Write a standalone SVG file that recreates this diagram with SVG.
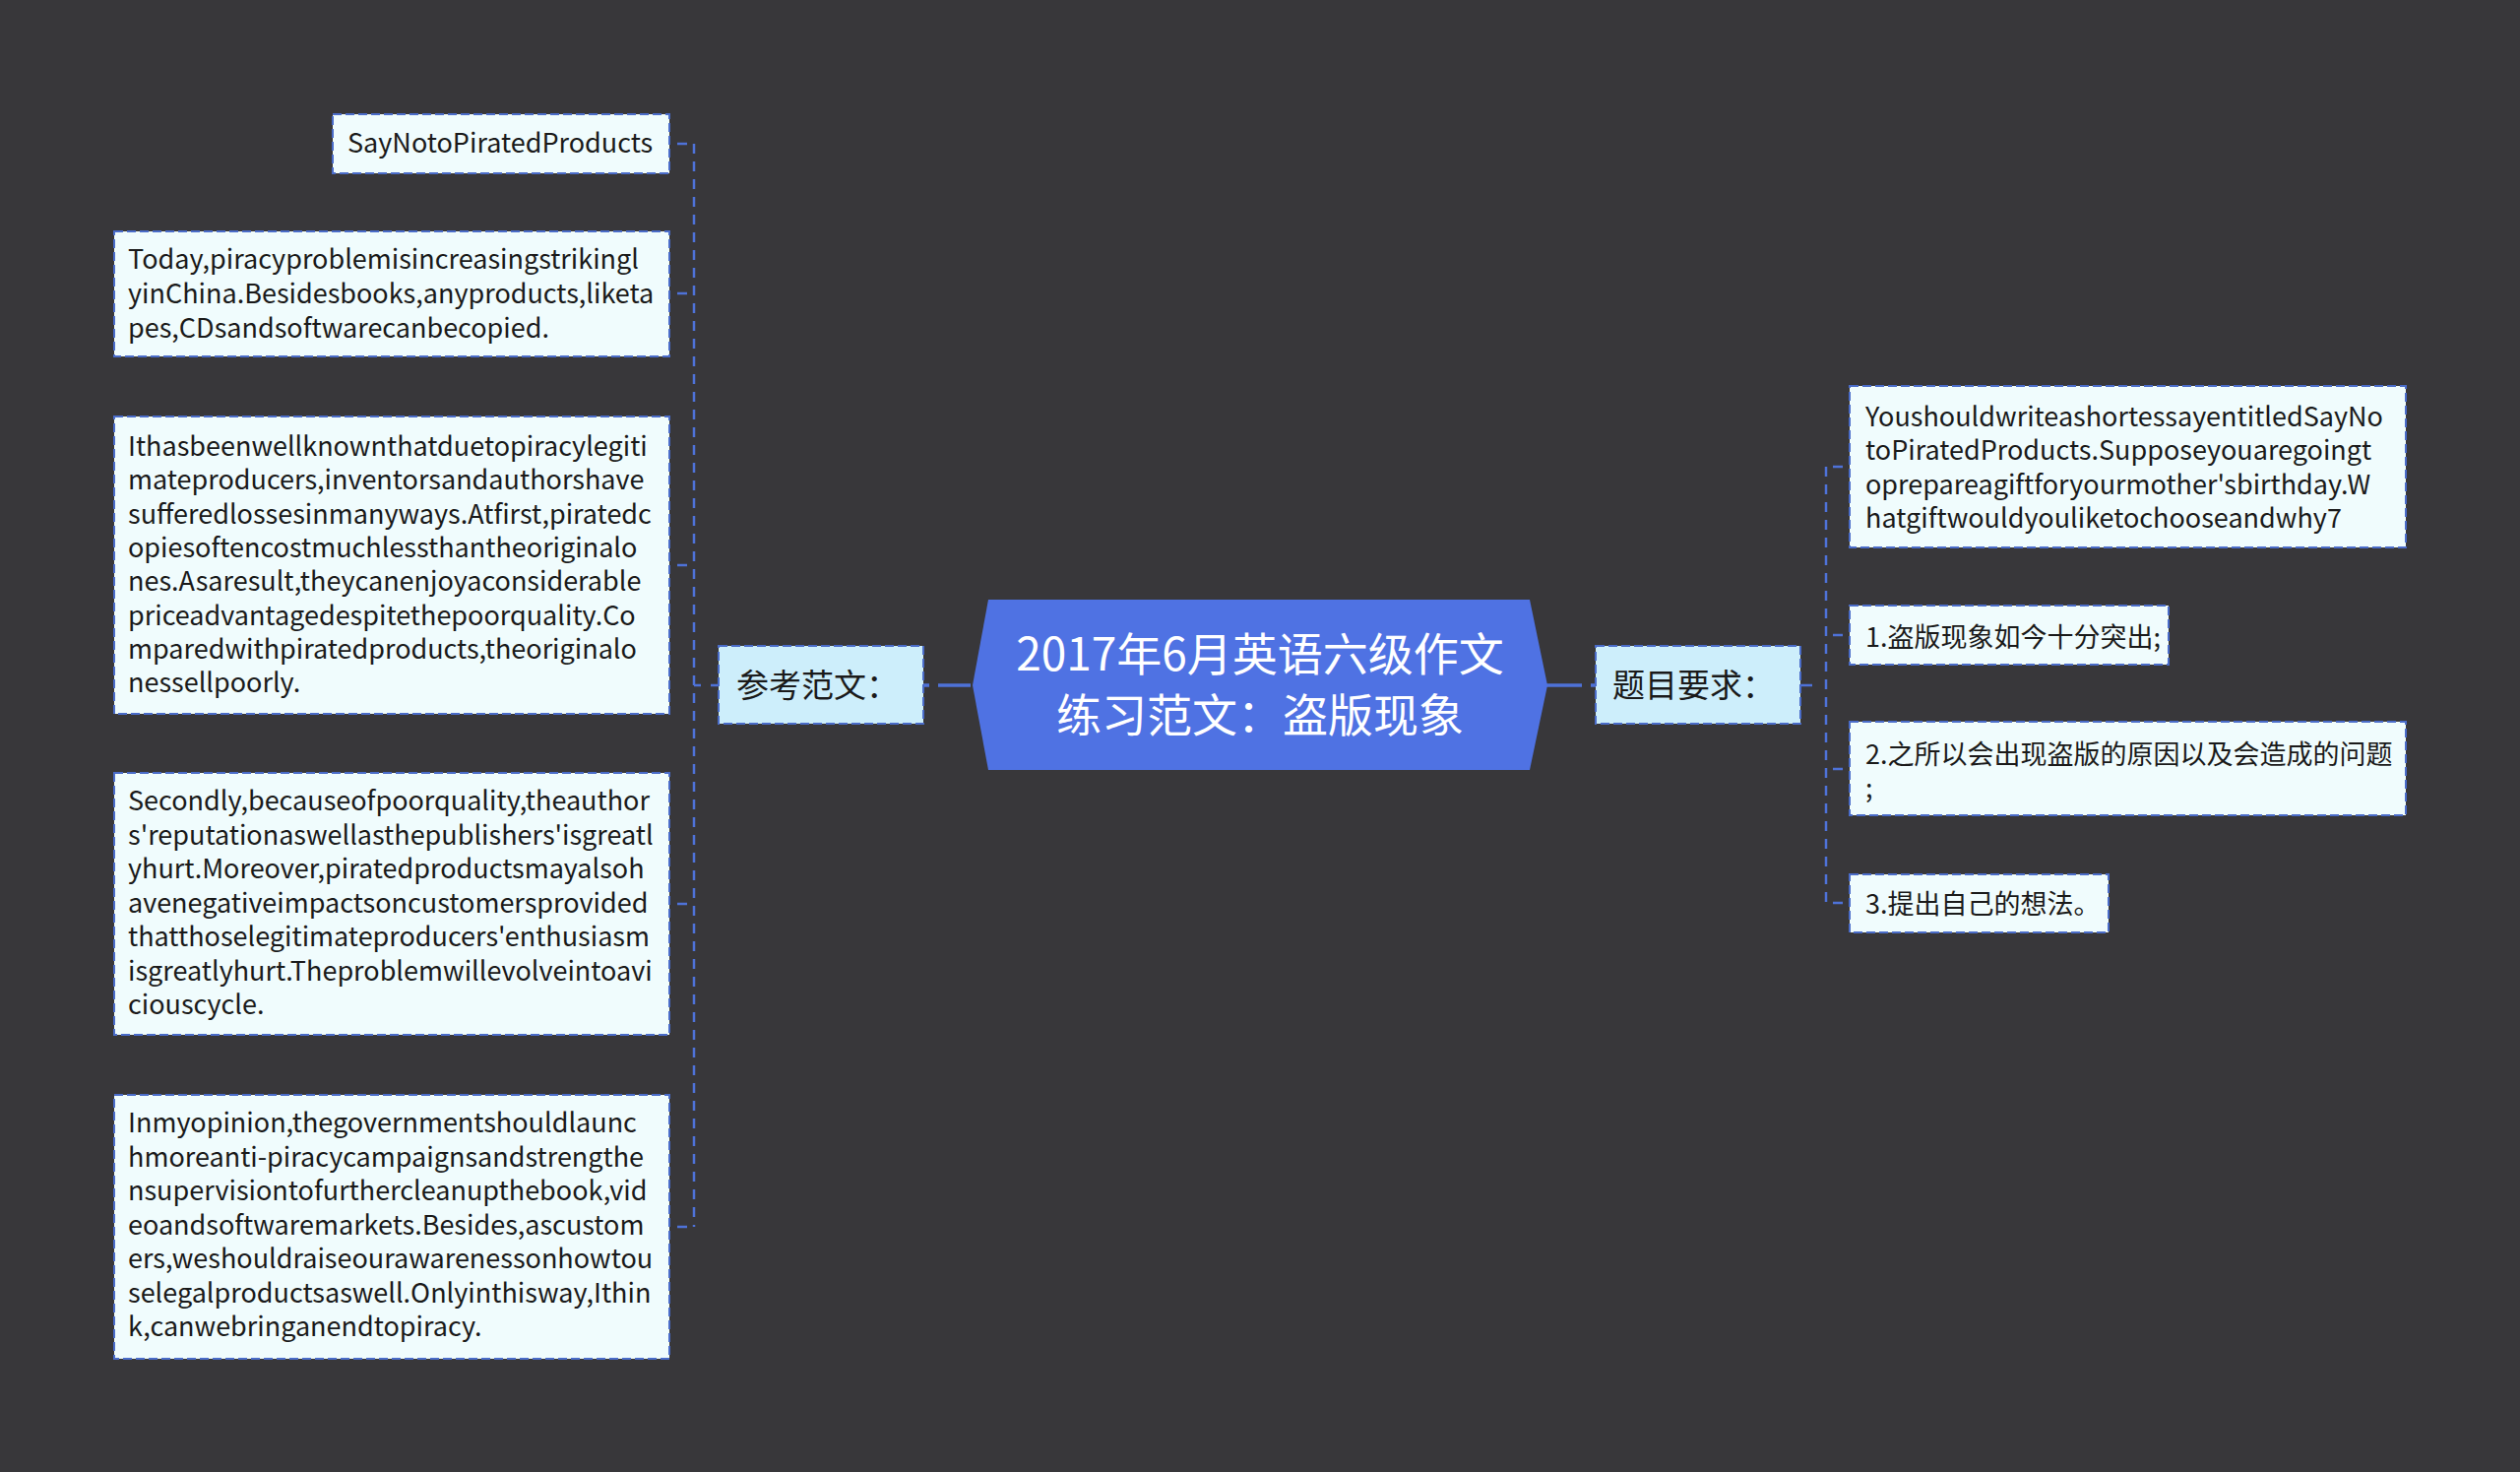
<svg xmlns="http://www.w3.org/2000/svg" width="2560" height="1495" viewBox="0 0 2560 1495">
<style>
.bg{fill:#38373a}
.t{font-family:"Noto Sans CJK SC","Noto Sans",sans-serif;fill:#1a1a1a}
.leaf{fill:#f0fcfd;stroke:#4a6cc9;stroke-width:2;stroke-dasharray:9 4}
.l1{fill:#cdeefb;stroke:#4a6cc9;stroke-width:2;stroke-dasharray:9 4}
.ct{font-family:"Noto Sans CJK SC","Noto Sans",sans-serif;fill:#ffffff;font-size:46px}
.lt{font-size:27px}
.ht{font-size:33px}
.ln{fill:none;stroke:#4e72d8;stroke-width:2.5}
.dv{stroke-dasharray:10 8}
.mc{stroke-width:3.5}
</style>
<rect class="bg" x="0" y="0" width="2560" height="1495"/>
<g id="connectors">
<path class="ln mc" d="M986 696 H937" stroke-dasharray="33 9"/>
<path class="ln mc" d="M1571 696 H1622" stroke-dasharray="36 9"/>
<path class="ln" d="M705 696 H730" stroke-dasharray="7 10 8 100"/>
<path class="ln dv" d="M705 146 V1246"/>
<path class="ln" d="M688 146 H698 M688 298 H698 M688 574 H698 M688 918 H698 M688 1246 H698"/>
<path class="ln" d="M1829 696 H1855" stroke-dasharray="12 14"/>
<path class="ln dv" d="M1855 474 V917"/>
<path class="ln" d="M1862 474 H1872 M1862 645 H1872 M1862 781 H1872 M1862 917 H1872"/>
</g>
<g id="center">
<polygon points="1004,609 1554,609 1572,696 1554,782 1004,782 988,696" fill="#4f72e3"/>
<text class="ct" x="1280" y="681" text-anchor="middle">2017年6月英语六级作文</text>
<text class="ct" x="1280" y="743" text-anchor="middle">练习范文：盗版现象</text>
</g>
<g id="n-ref">
<rect class="l1" x="730" y="656" width="208" height="79"/>
<text class="t ht" x="748" y="708">参考范文：</text>
</g>
<g id="n-req">
<rect class="l1" x="1621" y="656" width="208" height="79"/>
<text class="t ht" x="1638" y="708">题目要求：</text>
</g>
<g id="l1">
<rect class="leaf" x="338" y="116" width="342" height="60"/>
<text class="t lt" x="353" y="155">SayNotoPiratedProducts</text>
</g>
<g id="l2">
<rect class="leaf" x="116" y="235" width="564" height="127"/>
<text class="t lt" x="130" y="273">Today,piracyproblemisincreasingstrikingl</text>
<text class="t lt" x="130" y="308">yinChina.Besidesbooks,anyproducts,liketa</text>
<text class="t lt" x="130" y="343">pes,CDsandsoftwarecanbecopied.</text>
</g>
<g id="l3">
<rect class="leaf" x="116" y="423" width="564" height="302"/>
<text class="t lt" x="130" y="463">Ithasbeenwellknownthatduetopiracylegiti</text>
<text class="t lt" x="130" y="497.3">mateproducers,inventorsandauthorshave</text>
<text class="t lt" x="130" y="531.6">sufferedlossesinmanyways.Atfirst,piratedc</text>
<text class="t lt" x="130" y="565.9">opiesoftencostmuchlessthantheoriginalo</text>
<text class="t lt" x="130" y="600.2">nes.Asaresult,theycanenjoyaconsiderable</text>
<text class="t lt" x="130" y="634.5">priceadvantagedespitethepoorquality.Co</text>
<text class="t lt" x="130" y="668.8">mparedwithpiratedproducts,theoriginalo</text>
<text class="t lt" x="130" y="703.1">nessellpoorly.</text>
</g>
<g id="l4">
<rect class="leaf" x="116" y="785" width="564" height="266"/>
<text class="t lt" x="130" y="823">Secondly,becauseofpoorquality,theauthor</text>
<text class="t lt" x="130" y="857.5">s'reputationaswellasthepublishers'isgreatl</text>
<text class="t lt" x="130" y="892">yhurt.Moreover,piratedproductsmayalsoh</text>
<text class="t lt" x="130" y="926.5">avenegativeimpactsoncustomersprovided</text>
<text class="t lt" x="130" y="961">thatthoselegitimateproducers'enthusiasm</text>
<text class="t lt" x="130" y="995.5">isgreatlyhurt.Theproblemwillevolveintoavi</text>
<text class="t lt" x="130" y="1030">ciouscycle.</text>
</g>
<g id="l5">
<rect class="leaf" x="116" y="1112" width="564" height="268"/>
<text class="t lt" x="130" y="1150">Inmyopinion,thegovernmentshouldlaunc</text>
<text class="t lt" x="130" y="1184.5">hmoreanti-piracycampaignsandstrengthe</text>
<text class="t lt" x="130" y="1219">nsupervisiontofurthercleanupthebook,vid</text>
<text class="t lt" x="130" y="1253.5">eoandsoftwaremarkets.Besides,ascustom</text>
<text class="t lt" x="130" y="1288">ers,weshouldraiseourawarenessonhowtou</text>
<text class="t lt" x="130" y="1322.5">selegalproductsaswell.Onlyinthisway,Ithin</text>
<text class="t lt" x="130" y="1357">k,canwebringanendtopiracy.</text>
</g>
<g id="r1">
<rect class="leaf" x="1879" y="392" width="565" height="164"/>
<text class="t lt" x="1895" y="433">YoushouldwriteashortessayentitledSayNo</text>
<text class="t lt" x="1895" y="467.3">toPiratedProducts.Supposeyouaregoingt</text>
<text class="t lt" x="1895" y="501.6">oprepareagiftforyourmother'sbirthday.W</text>
<text class="t lt" x="1895" y="535.9">hatgiftwouldyouliketochooseandwhy7</text>
</g>
<g id="r2">
<rect class="leaf" x="1879" y="615" width="324" height="60"/>
<text class="t lt" x="1895" y="657">1.盗版现象如今十分突出;</text>
</g>
<g id="r3">
<rect class="leaf" x="1879" y="733" width="565" height="95"/>
<text class="t lt" x="1895" y="776">2.之所以会出现盗版的原因以及会造成的问题</text>
<text class="t lt" x="1895" y="810">;</text>
</g>
<g id="r4">
<rect class="leaf" x="1879" y="888" width="263" height="59"/>
<text class="t lt" x="1895" y="928">3.提出自己的想法。</text>
</g>
</svg>
